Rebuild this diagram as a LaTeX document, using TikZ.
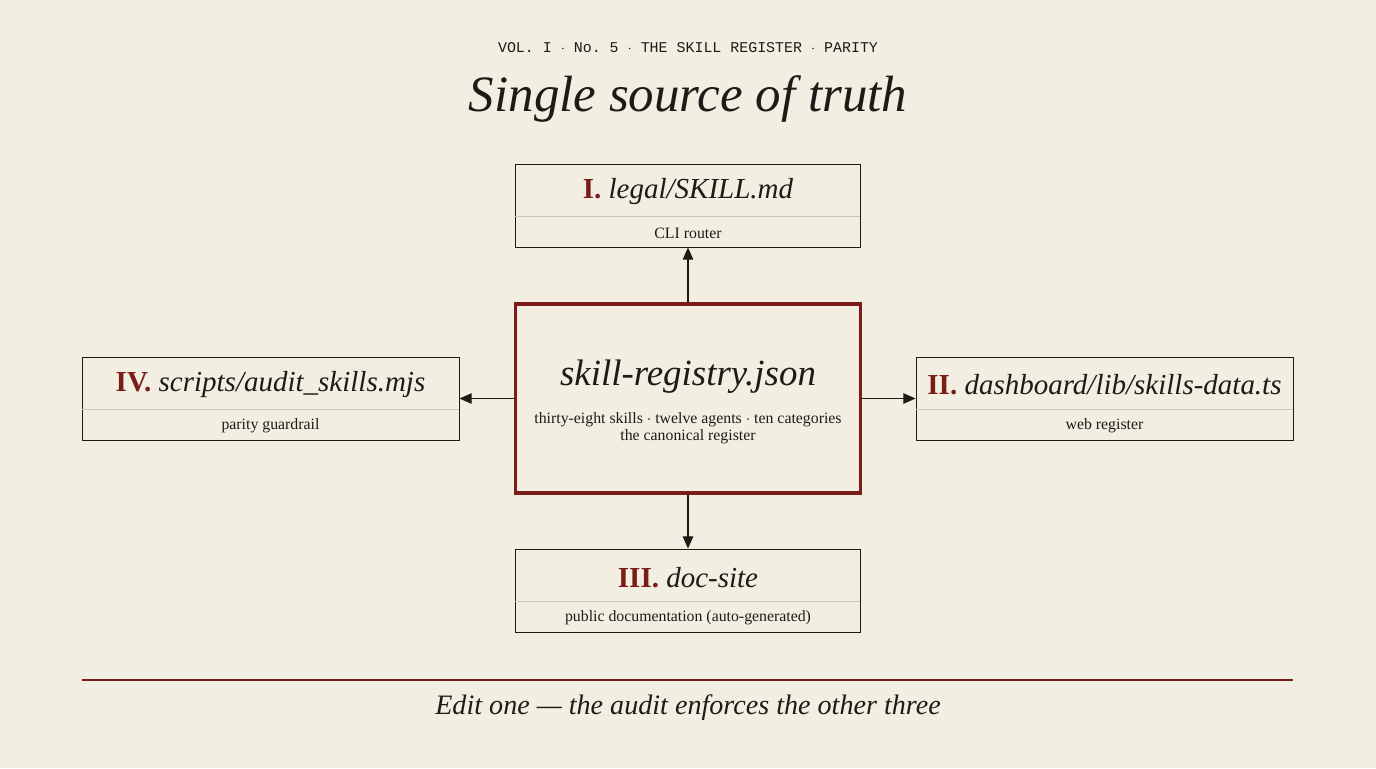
\documentclass[tikz,border=0pt]{standalone}
\usepackage{fontspec}
\setmainfont{Liberation Serif}
\setmonofont{Liberation Mono}
\usetikzlibrary{positioning, arrows.meta}
\definecolor{paper}{HTML}{F3EEE2}
\definecolor{ink}{HTML}{1F1A16}
\definecolor{oxblood}{HTML}{7A1D19}
\definecolor{rule}{HTML}{CFC6B8}
\tikzset{
	box/.style={draw=ink, line width=0.5pt, minimum width=345*0.02cm, minimum height=83*0.02cm, inner sep=0pt},
	wide/.style={box, minimum width=377*0.02cm},
	head/.style={font=\fontsize{16.5}{20}\selectfont, text=ink},
	sub/.style={font=\fontsize{9}{10}\selectfont, text=ink},
	feed/.style={-{Triangle[length=7pt,width=6pt]}, draw=ink, line width=0.7pt}
}
\begin{document}
\begin{tikzpicture}[x=0.02cm, y=-0.02cm]
	\fill [paper] (0,0) rectangle (1376,768);
	\useasboundingbox (0,0) rectangle (1376,768);

	\node (vol) at (688,48) {\fontsize{8.5}{10}\selectfont\ttfamily\color{ink}VOL. I $\cdot$ No. 5 $\cdot$ THE SKILL REGISTER $\cdot$ PARITY};
	\node (title) at (688,99) {\fontsize{29}{32}\selectfont\itshape\color{ink}Single source of truth};

	% the register
	\node [draw=oxblood, line width=2.2pt, minimum width=345*0.02cm, minimum height=189*0.02cm] (reg) at (688,398.5) {};
	\node [font=\fontsize{21}{24}\selectfont\itshape, text=ink] (regname) at (688,377) {skill-registry.json};
	\node [sub, align=center] (regsub) at (688,428) {thirty-eight skills $\cdot$ twelve agents $\cdot$ ten categories\\the canonical register};

	% the four copies
	\node [box] (cli) at (688,205.5) {};
	\node [wide] (audit) at (270.5,398.5) {};
	\node [wide] (web) at (1104.5,398.5) {};
	\node [box] (docs) at (688,590.5) {};

	\node [head] at (688,192) {\textbf{\color{oxblood}I.} \itshape legal/SKILL.md};
	\node [sub] at (688,233) {CLI router};
	\draw [rule] (515,216) -- (860,216);

	\node [head] at (270.5,385) {\textbf{\color{oxblood}IV.} \itshape scripts/audit\_skills.mjs};
	\node [sub] at (270.5,426) {parity guardrail};
	\draw [rule] (82,409) -- (459,409);

	\node [head] at (1104.5,385) {\textbf{\color{oxblood}II.} \itshape dashboard/lib/skills-data.ts};
	\node [sub] at (1104.5,426) {web register};
	\draw [rule] (916,409) -- (1293,409);

	\node [head] at (688,578) {\textbf{\color{oxblood}III.} \itshape doc-site};
	\node [sub] at (688,618) {public documentation (auto-generated)};
	\draw [rule] (515,601) -- (860,601);

	\draw [feed] (reg.north) -- (cli.south);
	\draw [feed] (reg.west) -- (audit.east);
	\draw [feed] (reg.east) -- (web.west);
	\draw [feed] (reg.south) -- (docs.north);

	\draw [oxblood, line width=0.9pt] (82,680) -- (1293,680);
	\node [font=\fontsize{16}{19}\selectfont\itshape, text=ink] (motto) at (688,708) {Edit one --- the audit enforces the other three};
\end{tikzpicture}
\end{document}
